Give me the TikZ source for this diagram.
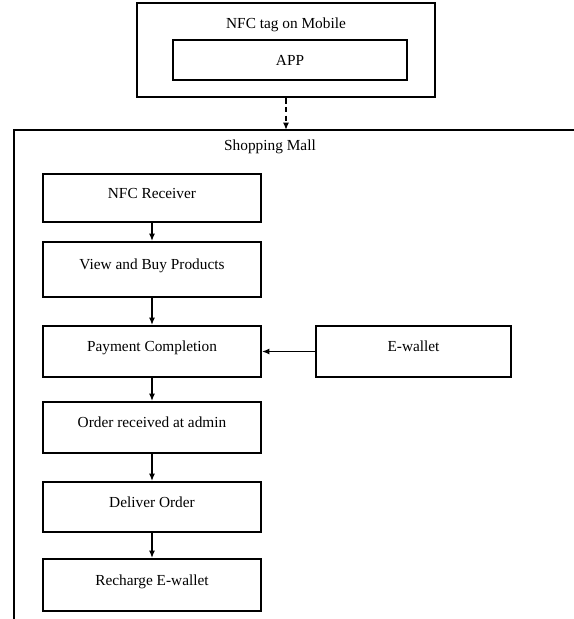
\documentclass[tikz,border=0pt]{standalone}
\usepackage{fontspec}
\setmainfont{Liberation Serif}
\usetikzlibrary{arrows.meta,positioning}

\begin{document}
\begin{tikzpicture}[x=0.75pt,y=-0.75pt,
  font=\fontsize{11.5}{14}\selectfont,
  stage/.style={draw,line width=1.4pt,inner sep=0pt,minimum width=163.5pt,minimum height=38.25pt,text height=8pt,text depth=8pt},
  flow/.style={line width=1.1pt,-{Latex[length=5.5pt,width=4.5pt]}}]
  \useasboundingbox (0,0) rectangle (574,619);
  % mobile side
  \node[draw,line width=2pt,minimum width=223.5pt,minimum height=70.5pt] (mobile) at (286,50) {};
  \node (mobtitle) at (286,25) {NFC tag on Mobile};
  \node[draw,line width=1.4pt,minimum width=175.5pt,minimum height=30pt] (app) at (290,60) {APP};
  % shopping mall frame (cut off at right and bottom)
  \coordinate (malltop) at (286,130);
  \draw[line width=1.4pt] (574,130) -- (14,130) -- (14,619);
  \node (malltitle) at (270,147) {Shopping Mall};
  \draw[flow,line width=1.4pt,dash pattern=on 4pt off 2.5pt] (mobile.south) -- (malltop);
  % steps in the mall
  \node[stage,minimum height=36pt] (nfcrx) at (152,198) {NFC Receiver};
  \node[stage,minimum height=41.25pt] (browse) at (152,269.5) {View and Buy Products};
  \node[stage] (payment) at (152,351.5) {Payment Completion};
  \node[stage] (order) at (152,427.5) {Order received at admin};
  \node[stage,minimum height=37.5pt] (deliver) at (152,507) {Deliver Order};
  \node[stage,minimum height=39pt] (recharge) at (152,585) {Recharge E-wallet};
  \node[stage,minimum width=146.25pt] (ewallet) at (413.5,351.5) {E-wallet};
  \draw[flow] (nfcrx) -- (browse);
  \draw[flow] (browse) -- (payment);
  \draw[flow] (payment) -- (order);
  \draw[flow] (order) -- (deliver);
  \draw[flow] (deliver) -- (recharge);
  \draw[flow] (ewallet) -- (payment);
\end{tikzpicture}
\end{document}
